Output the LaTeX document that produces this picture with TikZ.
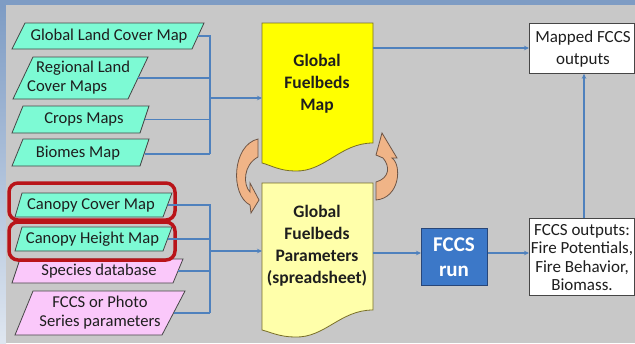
\documentclass[tikz,border=0pt]{standalone}
\usepackage{fontspec}
\setmainfont{Carlito}
\usetikzlibrary{arrows.meta}
\definecolor{bgblue}{RGB}{126,156,196}
\definecolor{bggray}{RGB}{200,200,200}
\definecolor{aqua}{RGB}{125,250,212}
\definecolor{pinkf}{RGB}{250,200,250}
\definecolor{outl}{RGB}{70,70,70}
\definecolor{linkblue}{RGB}{79,129,189}
\definecolor{docyellow}{RGB}{255,255,0}
\definecolor{doclight}{RGB}{255,255,170}
\definecolor{docedge}{RGB}{120,110,40}
\definecolor{runblue}{RGB}{60,120,200}
\definecolor{runedge}{RGB}{40,70,120}
\definecolor{hlred}{RGB}{185,20,25}
\definecolor{tanf}{RGB}{240,180,135}
\definecolor{tanedge}{RGB}{110,85,70}
\definecolor{txt}{RGB}{30,30,30}
\begin{document}
\begin{tikzpicture}[x=1pt,y=-1pt,
  para/.style={draw=outl, line width=0.8pt},
  lbl/.style={text=txt, font=\fontsize{16.6}{19}\selectfont, align=center, inner sep=0pt},
  doclbl/.style={text=txt, font=\fontsize{17.5}{22}\selectfont\bfseries, align=center, inner sep=0pt},
  link/.style={draw=linkblue, line width=1.4pt},
  arr/.style={link, -{Stealth[length=5pt,width=4.5pt]}},
  hl/.style={draw=hlred, line width=3.5pt, rounded corners=9pt},
  box/.style={draw=outl, fill=white, line width=0.8pt},
  curv/.style={fill=tanf, draw=tanedge, line width=0.8pt},
]
\useasboundingbox (0,0) rectangle (635,343);
% background
\fill[bgblue] (0,0) rectangle (635,343);
\shade[top color=bgblue, bottom color=bgblue!25!white] (0,5) rectangle (6,343);
\fill[bggray] (6,5) rectangle (635,343);

% upper parallelograms
\filldraw[para, fill=aqua] (25,23) -- (204,23) -- (192,49) -- (12,49) -- cycle;
\node[lbl] (glc) at (109,36) {Global Land Cover Map};
\coordinate (glcR) at (198,36);
\filldraw[para, fill=aqua] (33,57) -- (148,57) -- (128,99) -- (13,99) -- cycle;
\node[lbl, align=left, anchor=west] (rlc) at (27,78) {\hspace*{9pt}Regional Land\\Cover Maps};
\coordinate (rlcR) at (138,78);
\filldraw[para, fill=aqua] (23,106) -- (149,106) -- (140,133) -- (12,133) -- cycle;
\node[lbl] (crops) at (84,119.5) {Crops Maps};
\coordinate (cropsR) at (144.5,119.5);
\filldraw[para, fill=aqua] (23,139) -- (149,139) -- (140,166) -- (12,166) -- cycle;
\node[lbl] (biomes) at (78,153) {Biomes Map};
\coordinate (biomesR) at (144.5,154);

% lower parallelograms
\filldraw[para, fill=aqua] (22,193) -- (172,193) -- (163,217) -- (15,217) -- cycle;
\node[lbl] (ccm) at (91,205.5) {Canopy Cover Map};
\coordinate (ccmR) at (168,205);
\filldraw[para, fill=aqua] (22,227) -- (172,227) -- (163,251) -- (15,251) -- cycle;
\node[lbl] (chm) at (92.5,239.5) {Canopy Height Map};
\coordinate (chmR) at (168,239);
\filldraw[para, fill=pinkf] (20,259) -- (183,259) -- (173,283) -- (12,283) -- cycle;
\node[lbl] (spd) at (99,271.5) {Species database};
\coordinate (spdR) at (178,271);
\filldraw[para, fill=pinkf] (33,291) -- (185,291) -- (162,335) -- (15,335) -- cycle;
\node[lbl] (fps) at (100,313) {FCCS or Photo\\Series parameters};
\coordinate (fpsR) at (173.5,313);

% highlights
\draw[hl] (9,183) rectangle (175,220);
\draw[hl] (9,222) rectangle (175,260);

% documents
\filldraw[fill=docyellow, draw=docedge, line width=0.8pt]
  (262,23) -- (373,23) -- (373,143) .. controls (340,143) and (325,172) .. (295,171)
  .. controls (280,171) and (270,165) .. (262,163) -- cycle;
\node[doclbl] (gfm) at (317,84) {Global\\Fuelbeds\\Map};
\filldraw[fill=doclight, draw=docedge, line width=0.8pt]
  (262,183) -- (373,183) -- (373,310) .. controls (340,310) and (325,338) .. (295,337)
  .. controls (280,337) and (270,332) .. (262,330) -- cycle;
\node[doclbl] (gfp) at (317,246) {Global\\Fuelbeds\\Parameters\\(spreadsheet)};
\coordinate (gfmL) at (262,98);
\coordinate (gfmR) at (373,48);
\coordinate (gfpL) at (262,251);
\coordinate (gfpR) at (373,253);

% curved arrows
\filldraw[curv] (258,139) .. controls (232,145) and (230,195) .. (250,205)
  -- (251,213) -- (259,200) -- (250,183) -- (250,192)
  .. controls (243,185) and (243,165) .. (258,157) -- cycle;
\filldraw[curv] (376,200) .. controls (400,198) and (402,165) .. (392,158)
  -- (397,158) -- (382,133) -- (376,155) -- (383,158)
  .. controls (390,166) and (390,178) .. (376,182) -- cycle;

% right boxes
\node[box, minimum width=105pt, minimum height=50pt, anchor=north west, inner sep=0pt] (mfo) at (529,23) {};
\node[lbl, font=\fontsize{17}{22}\selectfont] at (583,49) {Mapped FCCS\\outputs};
\node[box, minimum width=105pt, minimum height=77pt, anchor=north west, inner sep=0pt] (fo) at (529,218) {};
\node[lbl, font=\fontsize{17}{18.5}\selectfont] at (582,257.5) {FCCS outputs:\\Fire Potentials,\\Fire Behavior,\\Biomass.};
\node[draw=runedge, fill=runblue, line width=0.8pt, minimum width=66pt, minimum height=57pt, anchor=north west, inner sep=0pt] (run) at (421,228) {};
\node[text=white, font=\fontsize{21}{25}\selectfont\bfseries, align=center, inner sep=0pt] at (454,257.5) {FCCS\\run};

% connectors upper
\draw[link] (glcR) -- (210,36) -- (210,154);
\draw[link] (rlcR) -- (210,78);
\draw[link] (cropsR) -- (210,119.5);
\draw[link] (biomesR) -- (210,154);
\draw[arr] (210,98) -- (gfmL);
% connectors lower
\draw[link] (ccmR) -- (210,205) -- (210,313);
\draw[link] (chmR) -- (210,239);
\draw[link] (spdR) -- (210,271);
\draw[link] (fpsR) -- (210,313);
\draw[arr] (210,251) -- (gfpL);
% right side
\draw[arr] (gfmR) -- (mfo.west |- gfmR);
\draw[arr] (gfpR) -- (run.west |- gfpR);
\draw[arr] (run.east |- gfpR) -- (fo.west |- gfpR);
\draw[arr] (fo.north -| 584,0) -- (mfo.south -| 584,0);
\end{tikzpicture}
\end{document}
